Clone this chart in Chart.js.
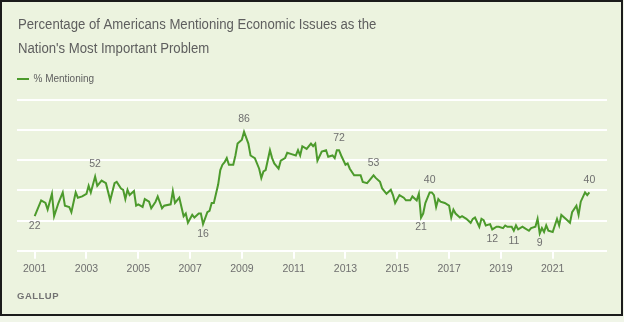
<!DOCTYPE html>
<html>
<head>
<meta charset="utf-8">
<script src="https://cdn.jsdelivr.net/npm/chart.js@4"></script>
<style>
  body { margin: 0; background: #f0f5e8; }
  .frame { position: absolute; left: 0; top: 0; width: 623px; height: 316px; box-sizing: border-box;
           border: 2px solid #1b1b1b; background: #ecf3df; }
  #econ { position: absolute; left: 0; top: 0; }
</style>
</head>
<body>
<div class="frame"></div>
<canvas id="econ" width="624" height="322"></canvas>
<script>
// monthly Gallup readings, % naming an economic issue as the top problem
var months = [
    '2001-01','2001-04','2001-06','2001-07','2001-09','2001-10','2001-12',
    '2002-02','2002-03','2002-05','2002-06','2002-08','2002-09','2002-11',
    '2003-01','2003-02','2003-03','2003-05','2003-06','2003-08','2003-10','2003-12',
    '2004-02','2004-03','2004-05','2004-06','2004-07','2004-08','2004-09','2004-11','2004-12',
    '2005-01','2005-03','2005-04','2005-06','2005-07','2005-09','2005-10','2005-12',
    '2006-01','2006-04','2006-05','2006-06','2006-08','2006-10','2006-11','2006-12',
    '2007-02','2007-03','2007-05','2007-06','2007-07','2007-09','2007-10','2007-11','2007-12',
    '2008-01','2008-02','2008-03','2008-04','2008-05','2008-06','2008-07','2008-09','2008-10','2008-11',
    '2009-01','2009-02','2009-04','2009-05','2009-07','2009-09','2009-10','2009-11','2009-12',
    '2010-02','2010-03','2010-04','2010-06','2010-07','2010-09','2010-10','2010-12',
    '2011-02','2011-03','2011-04','2011-05','2011-07','2011-09','2011-10','2011-11','2011-12',
    '2012-02','2012-04','2012-05','2012-07','2012-08','2012-09','2012-10','2012-11',
    '2013-01','2013-02','2013-03','2013-05','2013-06','2013-08','2013-09','2013-11','2013-12',
    '2014-02','2014-03','2014-05','2014-06','2014-08','2014-10','2014-11','2014-12',
    '2015-02','2015-04','2015-05','2015-07','2015-08','2015-10','2015-11','2015-12',
    '2016-01','2016-02','2016-04','2016-05','2016-06','2016-07','2016-08','2016-09','2016-11',
    '2017-01','2017-02','2017-03','2017-04','2017-06','2017-07','2017-09','2017-11','2017-12',
    '2018-01','2018-03','2018-04','2018-05','2018-06','2018-08','2018-09','2018-11','2018-12',
    '2019-02','2019-03','2019-04','2019-06','2019-07','2019-08','2019-09','2019-11','2019-12',
    '2020-02','2020-03','2020-05','2020-06','2020-07','2020-08','2020-09','2020-10','2020-11',
    '2021-01','2021-02','2021-03','2021-04','2021-05','2021-07','2021-09','2021-10','2021-12',
    '2022-01','2022-02','2022-04','2022-05','2022-06'
];

var pctMentioning = [
    22, 34, 32, 27, 39, 22, 32,
    40, 30, 29, 25, 40, 36, 37,
    39, 45, 40, 52, 45, 49, 47, 34,
    47, 48, 43, 42, 35, 42, 38, 41, 30,
    31, 29, 35, 33, 28, 33, 37, 28,
    30, 31, 41, 32, 36, 22, 24, 17,
    23, 21, 24, 24, 16, 25, 26, 32, 32,
    39, 46, 57, 61, 63, 66, 61, 61, 68, 77,
    80, 86, 77, 68, 66, 58, 51, 56, 57,
    72, 66, 62, 58, 64, 66, 70, 69,
    68, 72, 68, 75, 73, 77, 75, 77, 64,
    71, 72, 67, 68, 66, 72, 72, 68,
    61, 62, 58, 53, 53, 53, 48, 47, 49,
    53, 51, 48, 43, 39, 42, 38, 32,
    38, 36, 34, 34, 37, 34, 39, 21,
    24, 32, 40, 40, 38, 29, 35, 33, 32,
    30, 21, 27, 24, 21, 22, 20, 17, 20,
    21, 14, 20, 19, 15, 16, 12, 14, 14,
    13, 15, 14, 14, 11, 15, 12, 14, 13,
    11, 13, 14, 20, 9, 13, 10, 15, 11,
    10, 15, 20, 15, 23, 20, 17, 25, 30,
    23, 33, 40, 38, 40
];

// points that get their value printed next to the line
var labelledMonths = ['2001-01','2003-05','2007-07','2009-02','2012-10','2014-02',
                      '2015-12','2016-04','2018-09','2019-07','2020-07','2022-06'];

var tickYears = [2001, 2003, 2005, 2007, 2009, 2011, 2013, 2015, 2017, 2019, 2021];

var titleLines = ['Percentage of Americans Mentioning Economic Issues as the',
                  "Nation's Most Important Problem"];
var sourceNote = 'GALLUP';

var FONT = "'Liberation Sans', Arial, sans-serif";
var GREEN = '#4c9a2c';
var GREY = '#6f6f6f';

function toYear(m) {
    var parts = m.split('-');
    return Number(parts[0]) + (Number(parts[1]) - 1) / 12;
}

var points = months.map(function(m, i) {
    return {x: toYear(m), y: pctMentioning[i]};
});

// y range chosen so the white rules sit evenly behind the series
var Y_MIN = -4.2, Y_MAX = 110.4;

// title, legend key and source line around the plot
var frameText = {
    id: 'frameText',
    afterDraw: function(chart) {
        var ctx = chart.ctx;
        var area = chart.chartArea;
        ctx.save();

        // Gallup's title face is a narrow grotesque, so squeeze a regular sans
        ctx.fillStyle = '#5e5e5e';
        ctx.font = '15.4px ' + FONT;
        ctx.textBaseline = 'alphabetic';
        titleLines.forEach(function(line, i) {
            ctx.save();
            ctx.translate(18, 29.3 + i * 24);
            ctx.scale(0.855, 1);
            ctx.fillText(line, 0, 0);
            ctx.restore();
        });

        var y = area.top - 20.5;
        ctx.strokeStyle = GREEN;
        ctx.lineWidth = 2;
        ctx.beginPath();
        ctx.moveTo(area.left, y);
        ctx.lineTo(area.left + 12, y);
        ctx.stroke();
        ctx.fillStyle = '#5f5f5f';
        ctx.font = '10px ' + FONT;
        ctx.textBaseline = 'middle';
        ctx.fillText(chart.data.datasets[0].label, area.left + 16.5, y);

        ctx.fillStyle = '#737373';
        ctx.font = 'bold 9.5px ' + FONT;
        ctx.letterSpacing = '0.5px';
        ctx.fillText(sourceNote, area.left, 296);
        ctx.restore();
    }
};

var valueLabels = {
    id: 'valueLabels',
    afterDatasetsDraw: function(chart) {
        var ctx = chart.ctx;
        var meta = chart.getDatasetMeta(0);
        ctx.save();
        ctx.fillStyle = GREY;
        ctx.font = '10.5px ' + FONT;
        ctx.textAlign = 'center';
        ctx.textBaseline = 'middle';
        labelledMonths.forEach(function(m) {
            var i = months.indexOf(m);
            var v = pctMentioning[i];
            var prev = i > 0 ? pctMentioning[i - 1] : -Infinity;
            var next = i < pctMentioning.length - 1 ? pctMentioning[i + 1] : -Infinity;
            var above = v >= prev && v >= next;
            var pt = meta.data[i];
            ctx.fillText(String(v), pt.x, above ? pt.y - 12.5 : pt.y + 10);
        });
        ctx.restore();
    }
};

new Chart(document.getElementById('econ'), {
    type: 'line',
    data: {
        datasets: [{
            label: '% Mentioning',
            data: points,
            borderColor: GREEN,
            backgroundColor: GREEN,
            borderWidth: 2,
            pointRadius: 0,
            tension: 0
        }]
    },
    options: {
        responsive: false,
        animation: false,
        layout: { padding: { left: 17, right: 17, top: 99.5, bottom: 0 } },
        plugins: {
            legend: { display: false },
            tooltip: { enabled: false }
        },
        scales: {
            x: {
                type: 'linear',
                min: 2000.317,
                max: 2023.097,
                afterBuildTicks: function(scale) {
                    scale.ticks = tickYears.map(function(y) { return {value: y}; });
                },
                afterFit: function(scale) { scale.height = 71.2; },
                ticks: {
                    color: GREY,
                    font: { family: FONT, size: 10.5 },
                    padding: 4,
                    maxRotation: 0,
                    autoSkip: false,
                    callback: function(v) { return String(v); }
                },
                grid: { drawOnChartArea: false, drawTicks: true, tickLength: 8, color: '#ffffff', lineWidth: 2 },
                border: { display: false }
            },
            y: {
                min: Y_MIN,
                max: Y_MAX,
                afterBuildTicks: function(scale) {
                    var step = (Y_MAX - Y_MIN) / 5;
                    scale.ticks = [0, 1, 2, 3, 4, 5].map(function(k) { return {value: Y_MIN + k * step}; });
                },
                afterFit: function(scale) { scale.width = 0; },
                ticks: { display: false },
                grid: { color: '#ffffff', lineWidth: 2, drawTicks: false },
                border: { display: false }
            }
        }
    },
    plugins: [frameText, valueLabels]
});
</script>
</body>
</html>
